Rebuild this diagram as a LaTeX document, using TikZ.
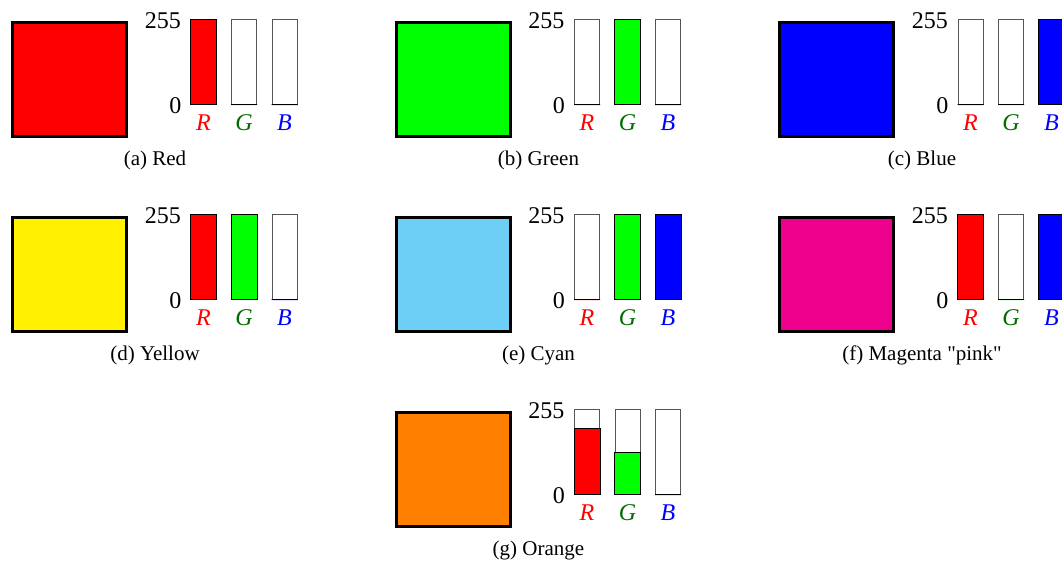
\documentclass[tikz,border=0pt]{standalone}
\usepackage{fontspec}
\setmainfont{Liberation Serif}[Ligatures=TeXOff]
\usetikzlibrary{calc}

\definecolor{cRed}{HTML}{FF0000}
\definecolor{cGreen}{HTML}{00FF00}
\definecolor{cBlue}{HTML}{0000FF}
\definecolor{cYellow}{HTML}{FFF100}
\definecolor{cCyan}{HTML}{6DCFF6}
\definecolor{cMagenta}{HTML}{EC008C}
\definecolor{cOrange}{HTML}{FF8000}
\definecolor{lblG}{HTML}{006C00}
\definecolor{barline}{HTML}{555555}

\tikzset{
  swatch/.style={rectangle, draw=black, line width=3pt, inner sep=0pt,
                 minimum width=114pt, minimum height=114pt},
  bar/.style={rectangle, draw=barline, line width=1pt, inner sep=0pt,
              minimum width=25pt, minimum height=85pt, anchor=south west},
  level/.style={draw=black, line width=1pt},
  axislbl/.style={inner sep=0pt, anchor=base east, font=\fontsize{24}{28}\selectfont},
  chanlbl/.style={inner sep=0pt, anchor=base, font=\fontsize{24}{28}\selectfont\itshape},
  caption/.style={inner sep=0pt, anchor=base, font=\fontsize{21}{25}\selectfont},
}

% #1 name, #2 x shift, #3 y shift, #4 colour, #5-#7 R G B levels (0..1), #8 caption
\newcommand\rgbpanel[8]{%
  \begin{scope}[shift={(#2,#3)}]
    \node[swatch, fill=#4] (#1-sq) at (69.5,79.5) {};
    % channel bars
    \node[bar] (#1-r) at (190.5,104.5) {};
    \node[bar] (#1-g) at (231,104.5) {};
    \node[bar] (#1-b) at (271.5,104.5) {};
    \path[level, fill=cRed]   (#1-r.south west) rectangle ($(#1-r.south east)+(0pt,{85pt*#5})$);
    \path[level, fill=cGreen] (#1-g.south west) rectangle ($(#1-g.south east)+(0pt,{85pt*#6})$);
    \path[level, fill=cBlue]  (#1-b.south west) rectangle ($(#1-b.south east)+(0pt,{85pt*#7})$);
    % axis marks
    \node[axislbl] (#1-hi) at (181,28.3) {255};
    \node[axislbl] (#1-lo) at (181.5,113) {0};
    % channel names
    \node[chanlbl, text=cRed] (#1-rl) at (#1-r.south |- 0,130) {R};
    \node[chanlbl, text=lblG] (#1-gl) at (#1-g.south |- 0,130) {G};
    \node[chanlbl, text=cBlue] (#1-bl) at (#1-b.south |- 0,130) {B};
    \node[caption] (#1-cap) at (155,165) {#8};
  \end{scope}}

\begin{document}
\begin{tikzpicture}[x=1pt, y=-1pt]
  \useasboundingbox (0,0) rectangle (1062,562);
  \rgbpanel{red}{0}{0}{cRed}{1}{0}{0}{(a) Red}
  \rgbpanel{green}{383.5}{0}{cGreen}{0}{1}{0}{(b) Green}
  \rgbpanel{blue}{767}{0}{cBlue}{0}{0}{1}{(c) Blue}
  \rgbpanel{yellow}{0}{195}{cYellow}{1}{1}{0}{(d) Yellow}
  \rgbpanel{cyan}{383.5}{195}{cCyan}{0}{1}{1}{(e) Cyan}
  \rgbpanel{magenta}{767}{195}{cMagenta}{1}{0}{1}{(f) Magenta "pink"}
  \rgbpanel{orange}{383.5}{390}{cOrange}{0.78}{0.49}{0}{(g) Orange}
\end{tikzpicture}
\end{document}
